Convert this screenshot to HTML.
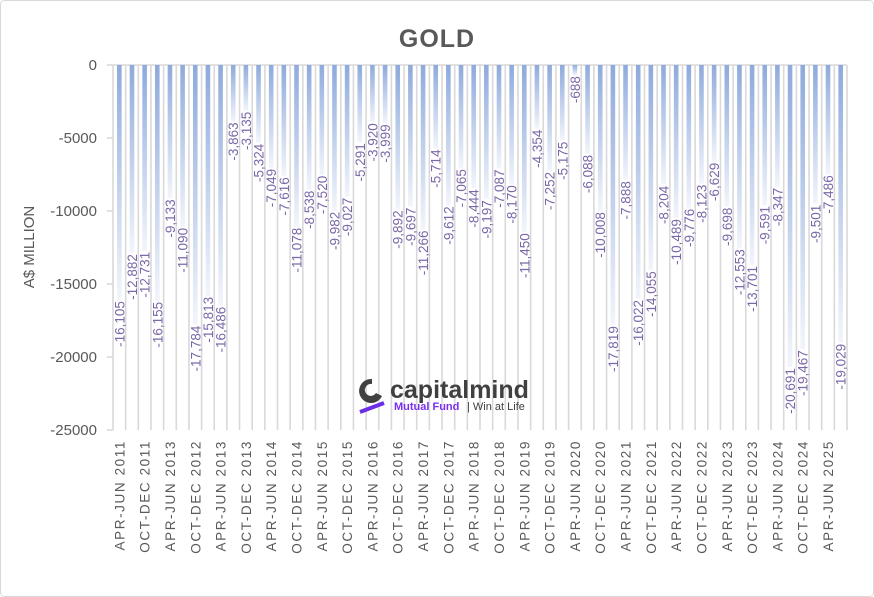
<!DOCTYPE html>
<html><head><meta charset="utf-8"><style>
body{margin:0;background:#fff;}
#wrap{position:relative;width:874px;height:597px;overflow:hidden;}
svg text{font-family:"Liberation Sans",sans-serif;}
</style></head><body>
<div id="wrap">
<svg id="chart" width="874" height="597" xmlns="http://www.w3.org/2000/svg">
<defs><linearGradient id="bg" x1="0" y1="0" x2="0" y2="1"><stop offset="0" stop-color="#8eaadc"/><stop offset="1" stop-color="#f2f5fb"/></linearGradient></defs>
<rect x="0.5" y="0.5" width="873" height="596" rx="4" fill="#fff" stroke="#d9d9d9"/>
<text x="437" y="47" text-anchor="middle" font-size="25" font-weight="bold" fill="#595959" letter-spacing="1">GOLD</text>
<text transform="translate(34,247) rotate(-90)" text-anchor="middle" font-size="15" fill="#595959">A$ MILLION</text>
<g id="grid"></g><g id="bars"></g><g id="labels"></g><g id="yaxis"></g><g id="xaxis"></g>
<g>
<path d="M372 379 a12 12 0 1 0 10 17 l-6 -3 a6 6 0 1 1 -4 -9 z" fill="#404040"/>
<line x1="360" y1="412" x2="384" y2="403" stroke="#6b2ee6" stroke-width="4"/>
<text x="390" y="398" font-size="25" font-weight="bold" fill="#404040">capitalmind</text>
<text x="394" y="410" font-size="11" font-weight="bold" fill="#7a2ff0">Mutual Fund</text>
<text x="467" y="410" font-size="11" fill="#404040">| Win at Life</text>
</g>
</svg></div>
<script>
const categories=(function(){const q=["APR-JUN","JUL-SEP","OCT-DEC","JAN-MAR"];const a=[];for(let i=0;i<58;i++){const qi=i%4;a.push(q[qi]+" "+(2011+Math.floor(i/4)+(qi===3?1:0)));}return a;})();
const xTickLabels=["APR-JUN 2011","OCT-DEC 2011","APR-JUN 2013","OCT-DEC 2012","APR-JUN 2013","OCT-DEC 2013","APR-JUN 2014","OCT-DEC 2014","APR-JUN 2015","OCT-DEC 2015","APR-JUN 2016","OCT-DEC 2016","APR-JUN 2017","OCT-DEC 2017","APR-JUN 2018","OCT-DEC 2018","APR-JUN 2019","OCT-DEC 2019","APR-JUN 2020","OCT-DEC 2020","APR-JUN 2021","OCT-DEC 2021","APR-JUN 2022","OCT-DEC 2022","APR-JUN 2023","OCT-DEC 2023","APR-JUN 2024","OCT-DEC 2024","APR-JUN 2025"];
const values=[-16105,-12882,-12731,-16155,-9133,-11090,-17784,-15813,-16486,-3863,-3135,-5324,-7049,-7616,-11078,-8538,-7520,-9982,-9027,-5291,-3920,-3999,-9892,-9697,-11266,-5714,-9612,-7065,-8444,-9197,-7087,-8170,-11450,-4354,-7252,-5175,-688,-6088,-10008,-17819,-7888,-16022,-14055,-8204,-10489,-9776,-8123,-6629,-9698,-12553,-13701,-9591,-8347,-20691,-19467,-9501,-7486,-19029];
const yTicks=[0,-5000,-10000,-15000,-20000,-25000];
const NS="http://www.w3.org/2000/svg";
const X0=113,X1=847,Y0=65,Y1=430,YMIN=-25000;
const n=values.length,cw=(X1-X0)/n;
const yS=v=>Y0+(v/YMIN)*(Y1-Y0);
const xS=i=>X0+(i+0.5)*cw;
function mk(t,a,p){const e=document.createElementNS(NS,t);for(const k in a)e.setAttribute(k,a[k]);p.appendChild(e);return e;}
const g=document.getElementById('grid'),b=document.getElementById('bars'),l=document.getElementById('labels'),ya=document.getElementById('yaxis'),xa=document.getElementById('xaxis');
for(let i=0;i<=n;i++){const x=X0+i*cw;const e=mk('line',{x1:x,x2:x,y1:Y0,y2:Y1,stroke:'#d9d9d9','stroke-width':1.6},g);

}
const ax=mk('line',{x1:X0,x2:X1,y1:Y0,y2:Y0,stroke:'#d9d9d9','stroke-width':1.6},g);


values.forEach((v,i)=>{const y=yS(v);const r=mk('rect',{x:xS(i)-2.3,y:Y0,width:4.6,height:y-Y0,fill:'url(#bg)'},b);


const t=mk('text',{transform:`translate(${xS(i)+5},${y+1}) rotate(-90)`,'text-anchor':'end','font-size':13.5,fill:'#7b68a8'},l);
t.textContent=v.toLocaleString('en-US');

});
yTicks.forEach(v=>{const y=yS(v);mk('line',{x1:107,x2:X0,y1:y,y2:y,stroke:'#d9d9d9','stroke-width':1.6},ya);
const t=mk('text',{x:97,y:y+5,'text-anchor':'end','font-size':15,fill:'#595959'},ya);t.textContent=v;

});
xTickLabels.forEach((s,k)=>{const i=k*2;const t=mk('text',{transform:`translate(${xS(i)+5},440) rotate(-90)`,'text-anchor':'end','font-size':13.5,fill:'#595959','letter-spacing':'1.6'},xa);t.textContent=s;

});
</script></body></html>
